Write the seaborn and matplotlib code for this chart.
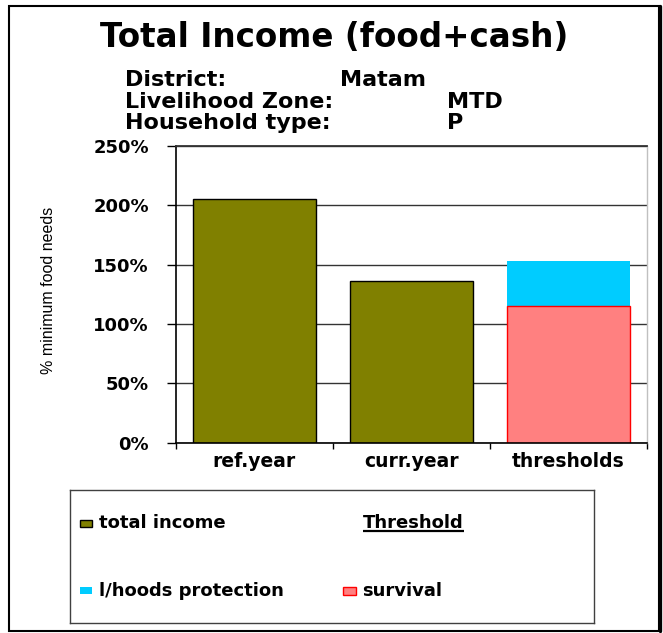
"""Total income (food+cash) chart for Matam / MTD / P households."""
import matplotlib

matplotlib.use("Agg")
import matplotlib.pyplot as plt
import pandas as pd
import seaborn as sns
from matplotlib.lines import Line2D
from matplotlib.patches import Rectangle

# data
categories = ["ref.year", "curr.year", "thresholds"]
income_cats = ["ref.year", "curr.year"]
income_values = [205, 136]          # % of minimum food needs
survival = [115]
livelihoods_protection = [38]       # stacked on top of survival
yticks = [0, 50, 100, 150, 200, 250]

header_keys = ["District:", "Livelihood Zone:", "Household type:"]
header_vals = ["Matam", "MTD", "P"]

OLIVE = "#808000"
CYAN = "#00CCFF"
PINK = "#FF8080"
RED = "#FF0000"

sns.set_theme(style="white")
plt.rcParams["font.family"] = ["DejaVu Sans"]

W, H = 663, 633
fig = plt.figure(figsize=(W / 100, H / 100), dpi=100)
fig.patch.set_facecolor("white")


def fx(x):
    return x / W


def fy(y):
    return 1 - y / H


# ---- main axes
ax = fig.add_axes([fx(176), fy(442.7), (647 - 176) / W, (442.7 - 146) / H])

income = pd.DataFrame({"category": income_cats, "value": income_values})
thr = pd.DataFrame({"category": ["thresholds"], "survival": survival,
                    "protection": livelihoods_protection})
thr["top"] = thr["survival"] + thr["protection"]

common = dict(order=categories, width=0.78, saturation=1, errorbar=None, ax=ax)
sns.barplot(data=income, x="category", y="value", color=OLIVE,
            edgecolor="black", linewidth=1, **common)
sns.barplot(data=thr, x="category", y="top", color=CYAN, linewidth=0, **common)
sns.barplot(data=thr, x="category", y="survival", color=PINK,
            edgecolor=RED, linewidth=1, **common)

ax.set_xlim(-0.5, 2.5)
ax.set_ylim(0, 250)
ax.set_yticks(yticks, labels=[f"{v}%" for v in yticks],
              fontweight="bold", fontsize=13)
ax.set_xticks(range(len(categories)), labels=categories,
              fontweight="bold", fontsize=13.5)
ax.set_xticks([i - 0.5 for i in range(len(categories) + 1)], minor=True)
ax.tick_params(axis="y", direction="out", length=6.5, width=1,
               color="black", pad=13, left=True, labelcolor="black")
ax.tick_params(axis="x", which="major", length=0, pad=7, labelcolor="black")
ax.tick_params(axis="x", which="minor", direction="out", length=4,
               width=1, color="black", bottom=True)

ax.yaxis.grid(True, color="#333333", linewidth=1)
ax.set_axisbelow(True)
for side in ["left", "bottom"]:
    ax.spines[side].set_color("black")
    ax.spines[side].set_linewidth(1.2)
ax.spines["top"].set_color("#333333")
ax.spines["top"].set_linewidth(1.3)
ax.spines["right"].set_color("#C0C0C0")
ax.spines["right"].set_linewidth(1)

ax.set_xlabel("")
ax.set_ylabel("% minimum food needs", fontsize=11.5, color="black",
              family=["Liberation Sans Narrow", "Liberation Sans"])
ax.yaxis.set_label_coords(-0.255, 0.515)

# ---- titles
fig.text(fx(334), fy(47), "Total Income (food+cash)", ha="center",
         va="baseline", fontsize=23.5, fontweight="bold", color="black")
val_x = [340, 447, 447]
for i, (k, v) in enumerate(zip(header_keys, header_vals)):
    base = 86 + 21.5 * i
    fig.text(fx(125), fy(base), k, ha="left", va="baseline",
             fontsize=16, fontweight="bold", color="black")
    fig.text(fx(val_x[i]), fy(base), v, ha="left", va="baseline",
             fontsize=16, fontweight="bold", color="black")

# ---- legend box
lax = fig.add_axes([fx(70), fy(623), (594 - 70) / W, (623 - 490) / H])
lax.set_xlim(70, 594)
lax.set_ylim(623, 490)
lax.set_xticks([])
lax.set_yticks([])
lax.set_facecolor("white")
for s in lax.spines.values():
    s.set_color("#404040")
    s.set_linewidth(1)

lax.add_patch(Rectangle((80, 520), 12, 7, facecolor=OLIVE, edgecolor="black", lw=1))
lax.add_patch(Rectangle((80, 587), 12, 7, facecolor=CYAN, edgecolor="none"))
lax.add_patch(Rectangle((343, 587), 13, 8, facecolor=PINK, edgecolor=RED, lw=1))
txt = dict(va="center", ha="left", fontsize=13, fontweight="bold", color="black")
lax.text(99, 523, "total income", **txt)
lax.text(99, 591, "l/hoods protection", **txt)
lax.text(362, 591, "survival", **txt)
thr_title = lax.text(363, 523, "Threshold", **txt)

fig.canvas.draw()
bb = thr_title.get_window_extent().transformed(lax.transData.inverted())
lax.plot([bb.x0, bb.x1], [531, 531], color="black", lw=1.6, solid_capstyle="butt")

# ---- outer frame
fig.patches.append(Rectangle((fx(9), fy(631)), (659 - 9) / W, (631 - 6) / H,
                             transform=fig.transFigure, fill=False,
                             edgecolor="black", lw=1.5))
fig.lines.append(Line2D([fx(659.5), fx(659.5)], [fy(6), fy(631)],
                        transform=fig.transFigure, color="black", lw=2.4))

fig.savefig("out.png", dpi=100)
